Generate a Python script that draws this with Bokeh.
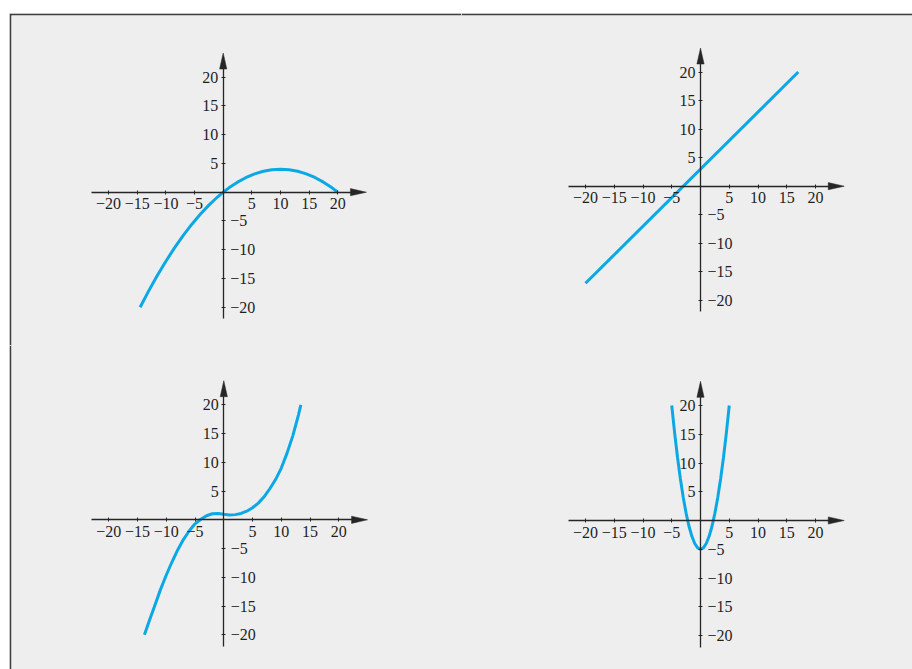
from bokeh.plotting import figure
from bokeh.models import LinearAxis, FixedTicker, Range1d
from bokeh.layouts import gridplot
from bokeh.embed import file_html
from bokeh.resources import INLINE

# ---------------- data ----------------
# panel 1: downward parabola through (0,0), vertex (10,4), (20,0)
p1_x = [-14.5, -13, -11.5, -10, -8.5, -7, -5.5, -4, -2.5, -1, 0, 1, 2.5, 4, 5.5, 7,
        8.5, 10, 11.5, 13, 14.5, 16, 17.5, 19, 20]
p1_y = [-20.0, -17.16, -14.49, -12.0, -9.69, -7.56, -5.61, -3.84, -2.25, -0.84, 0.0,
        0.76, 1.75, 2.56, 3.19, 3.64, 3.91, 4.0, 3.91, 3.64, 3.19, 2.56, 1.75, 0.76, 0.0]

# panel 2: straight line
p2_x = [-20, 17]
p2_y = [-17, 20]

# panel 3: cubic-like curve
p3_x = [-13.8, -13, -12, -11, -10, -9, -8, -7, -6, -5, -4, -3, -2, -1, 0, 1, 2, 3, 4,
        5, 6, 7, 8, 9, 10, 11, 12, 13, 13.4]
p3_y = [-20.0, -17.7, -14.9, -12.1, -9.6, -7.3, -5.2, -3.4, -1.9, -0.7, 0.1, 0.7, 1.05,
        1.1, 0.95, 0.85, 0.9, 1.1, 1.5, 2.1, 2.9, 4.0, 5.4, 7.0, 9.0, 11.6, 14.6, 18.3, 20.0]

# panel 4: upward parabola, vertex (0,-5)
p4_x = [-5, -4.5, -4, -3.5, -3, -2.5, -2, -1.5, -1, -0.5, 0, 0.5, 1, 1.5, 2, 2.5, 3,
        3.5, 4, 4.5, 5]
p4_y = [20, 15.25, 11, 7.25, 4, 1.25, -1, -2.75, -4, -4.75, -5, -4.75, -4, -2.75, -1,
        1.25, 4, 7.25, 11, 15.25, 20]

x_ticks = [-20, -15, -10, -5, 5, 10, 15, 20]
x_tick_labels = ["\u221220", "\u221215", "\u221210", "\u22125", "5", "10", "15", "20"]
y_pos_ticks = [5, 10, 15, 20]
y_pos_labels = ["5", "10", "15", "20"]
y_neg_ticks = [-5, -10, -15, -20]
y_neg_labels = ["\u22125", "\u221210", "\u221215", "\u221220"]

# ---------------- styling ----------------
BG = "#eeeeee"
FRAME_LINE = "#404040"
AXIS_COLOR = "#262626"
TEXT_COLOR = "#1e1e1e"
CURVE = "#0aa9e6"
FONT = "Liberation Serif"
FONT_SIZE = "16px"
EDGE = 2  # thickness of the dark frame line (left / top)

X_AXIS_START, X_AXIS_TIP = -23.0, 25.0
Y_AXIS_START, Y_AXIS_TIP = -22.0, 24.2
HEAD_LEN_PX = 16
HEAD_HALF_PX = 3.6


def panel(w, h, ox, oy, sx, sy, xs, ys, edge_left, edge_top):
    # w, h: size of the plotting area; the dark frame edge is a border strip
    p = figure(width=w + edge_left, height=h + edge_top,
               x_range=Range1d(-ox / sx, (w - ox) / sx),
               y_range=Range1d(-(h - oy) / sy, oy / sy),
               x_axis_type=None, y_axis_type=None,
               toolbar_location=None, output_backend="svg",
               min_border_left=edge_left, min_border_top=edge_top,
               min_border_right=0, min_border_bottom=0,
               outline_line_color=None,
               background_fill_color=BG, border_fill_color=FRAME_LINE)

    head_x = HEAD_LEN_PX / sx
    head_y = HEAD_LEN_PX / sy

    common = dict(fixed_location=0,
                  major_label_text_font=FONT,
                  major_label_text_font_size=FONT_SIZE,
                  major_label_text_color=TEXT_COLOR,
                  axis_line_color=AXIS_COLOR, axis_line_width=1.3,
                  major_tick_line_color=AXIS_COLOR, major_tick_line_width=1,
                  major_tick_in=2, major_tick_out=2,
                  minor_tick_line_color=None)

    xa = LinearAxis(ticker=FixedTicker(ticks=x_ticks),
                    major_label_overrides=dict(zip(x_ticks, x_tick_labels)),
                    bounds=(X_AXIS_START, X_AXIS_TIP - head_x * 0.6),
                    major_label_standoff=4, **common)
    p.add_layout(xa, "below")

    ya = LinearAxis(ticker=FixedTicker(ticks=y_pos_ticks),
                    major_label_overrides=dict(zip(y_pos_ticks, y_pos_labels)),
                    bounds=(Y_AXIS_START, Y_AXIS_TIP - head_y * 0.6),
                    major_label_standoff=3, **common)
    p.add_layout(ya, "left")

    common_r = dict(common)
    common_r["axis_line_color"] = None
    yb = LinearAxis(ticker=FixedTicker(ticks=y_neg_ticks),
                    major_label_overrides=dict(zip(y_neg_ticks, y_neg_labels)),
                    bounds=(Y_AXIS_START, Y_AXIS_TIP - head_y),
                    major_label_standoff=5, **common_r)
    p.add_layout(yb, "right")

    # arrow heads
    hx = HEAD_HALF_PX / sx
    hy = HEAD_HALF_PX / sy
    p.patches(xs=[[X_AXIS_TIP - head_x, X_AXIS_TIP, X_AXIS_TIP - head_x],
                  [-hx, 0, hx]],
              ys=[[hy, 0, -hy],
                  [Y_AXIS_TIP - head_y, Y_AXIS_TIP, Y_AXIS_TIP - head_y]],
              fill_color=AXIS_COLOR, line_color=AXIS_COLOR, line_width=0.5)

    p.line(xs, ys, line_color=CURVE, line_width=3)
    return p


p1 = panel(450, 330, 211.7, 176.7, 5.73, 5.75, p1_x, p1_y, EDGE, EDGE)
p2 = panel(451, 330, 239.0, 170.7, 5.75, 5.71, p2_x, p2_y, 0, EDGE)
p3 = panel(450, 324, 212.3, 174.3, 5.75, 5.75, p3_x, p3_y, EDGE, 0)
p4 = panel(451, 324, 239.0, 175.0, 5.75, 5.75, p4_x, p4_y, 0, 0)

grid = gridplot([[p1, p2], [p3, p4]], toolbar_location=None)
grid.styles = {"position": "fixed", "left": "9px", "top": "13px",
               "background-color": BG}

open("out.html", "w").write(file_html(grid, INLINE))
